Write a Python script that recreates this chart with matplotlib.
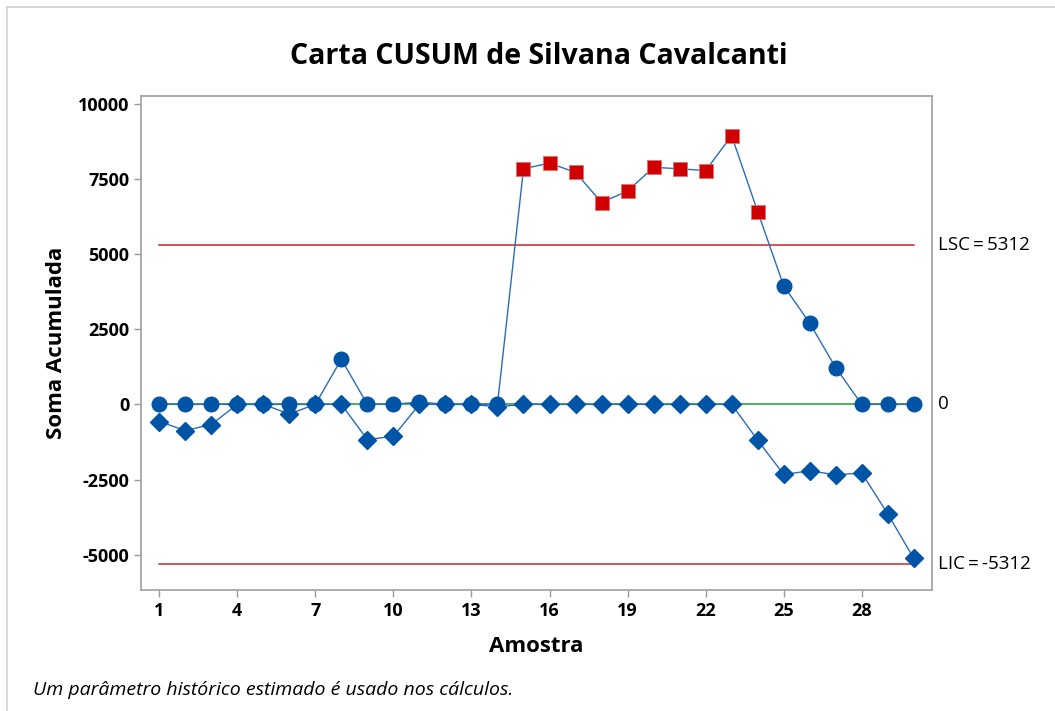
import numpy as np
import matplotlib.pyplot as plt
from matplotlib.patches import Rectangle

plt.rcParams['font.family'] = ['Open Sans', 'DejaVu Sans']
plt.rcParams['axes.unicode_minus'] = False

amostras = np.arange(1, 31)
cusum_sup = [0, 0, 0, 0, 0, 0, 0, 1500, 0, 0,
             80, 0, 0, 0, 7830, 8020, 7710, 6710, 7090, 7880,
             7830, 7770, 8930, 6410, 3940, 2700, 1220, 0, 0, 0]
cusum_inf = [-570, -870, -670, 0, 0, -320, 0, 0, -1170, -1060,
             0, 0, 0, -80, 0, 0, 0, 0, 0, 0,
             0, 0, 0, -1190, -2330, -2210, -2340, -2280, -3640, -5120]
lsc = 5312
lic = -5312
centro = 0

azul = '#0054a6'
linha_azul = '#2b6cb8'
vermelho = '#d00000'

fig = plt.figure(figsize=(10.55, 7.11), dpi=100)
fig.patches.append(Rectangle((7 / 1055, -0.1), 1.2, 1 - 7 / 711 + 0.1,
                             transform=fig.transFigure, fill=False,
                             edgecolor='#d0d0d0', linewidth=1.2))
ax = fig.add_axes([141 / 1055, 1 - 590 / 711, (932 - 141) / 1055, (590 - 96) / 711])

sup = np.array(cusum_sup)
inf = np.array(cusum_inf)

ax.plot([1, 30], [lsc, lsc], color='#c0282d', lw=1.1, zorder=1)
ax.plot([1, 30], [lic, lic], color='#c0282d', lw=1.1, zorder=1)
ax.plot([1, 30], [centro, centro], color='#1e9e2e', lw=1.1, zorder=1)

ax.plot(amostras, inf, color=linha_azul, lw=1.0, zorder=2)
ax.plot(amostras, inf, 'D', color=azul, ms=9, mec=azul, ls='none', zorder=3)

ax.plot(amostras, sup, color=linha_azul, lw=1.0, zorder=2)
fora = sup > lsc
ax.plot(amostras[~fora], sup[~fora], 'o', color=azul, ms=10.5, ls='none', zorder=4)
ax.plot(amostras[fora], sup[fora], 's', color=vermelho, mec='#e07070', mew=0.6,
        ms=10, ls='none', zorder=4)

ax.set_xlim(0.3, 30.7)
ax.set_ylim(-6170, 10250)
ax.set_xticks(np.arange(1, 30, 3))
ax.set_yticks([-5000, -2500, 0, 2500, 5000, 7500, 10000])
ax.tick_params(colors='#999999', labelcolor='black', labelsize=13, length=5, width=1)
for lab in ax.get_xticklabels() + ax.get_yticklabels():
    lab.set_fontweight('bold')
for s in ax.spines.values():
    s.set_color('#a0a0a0')
    s.set_linewidth(1.2)

ax.set_xlabel('Amostra', fontsize=16, fontweight='bold', labelpad=12)
ax.set_ylabel('Soma Acumulada', fontsize=16, fontweight='bold', labelpad=8)

tr = ax.get_yaxis_transform()
ts = '\u2009'
for val, txt in [(lsc, 'LSC' + ts + '=' + ts + '5312'), (centro, '0'),
                 (lic, 'LIC' + ts + '=' + ts + '-5312')]:
    ax.text(1.008, val, txt, transform=tr, va='center', ha='left', fontsize=13.5)

fig.text(539 / 1055, 1 - 57 / 711, 'Carta CUSUM de Silvana Cavalcanti', ha='center',
         va='center', fontsize=20.5, fontweight='bold')
fig.text(33 / 1055, 1 - 690 / 711, 'Um parâmetro histórico estimado é usado nos cálculos.',
         ha='left', va='center', fontsize=14, style='italic')

fig.savefig('out.png', dpi=100)
